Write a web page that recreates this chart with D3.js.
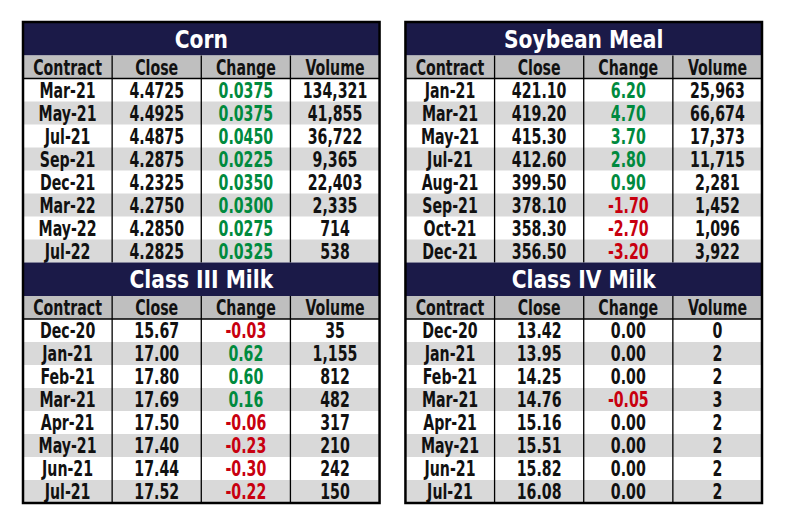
<!DOCTYPE html>
<html>
<head>
<meta charset="utf-8">
<script src="https://cdn.jsdelivr.net/npm/d3@7"></script>
<style>
  body { margin: 0; background: #fff; }
  text { font-family: "DejaVu Sans Condensed", "DejaVu Sans", sans-serif; font-weight: bold; }
</style>
</head>
<body>
<div id="chart"></div>
<script>
const columns = ['Contract', 'Close', 'Change', 'Volume'];

const cornContracts = ['Mar-21', 'May-21', 'Jul-21', 'Sep-21', 'Dec-21', 'Mar-22', 'May-22', 'Jul-22'];
const cornClose = ['4.4725', '4.4925', '4.4875', '4.2875', '4.2325', '4.2750', '4.2850', '4.2825'];
const cornChange = [0.0375, 0.0375, 0.0450, 0.0225, 0.0350, 0.0300, 0.0275, 0.0325];
const cornVolume = [134321, 41855, 36722, 9365, 22403, 2335, 714, 538];

const mealContracts = ['Jan-21', 'Mar-21', 'May-21', 'Jul-21', 'Aug-21', 'Sep-21', 'Oct-21', 'Dec-21'];
const mealClose = ['421.10', '419.20', '415.30', '412.60', '399.50', '378.10', '358.30', '356.50'];
const mealChange = [6.20, 4.70, 3.70, 2.80, 0.90, -1.70, -2.70, -3.20];
const mealVolume = [25963, 66674, 17373, 11715, 2281, 1452, 1096, 3922];

const milk3Contracts = ['Dec-20', 'Jan-21', 'Feb-21', 'Mar-21', 'Apr-21', 'May-21', 'Jun-21', 'Jul-21'];
const milk3Close = ['15.67', '17.00', '17.80', '17.69', '17.50', '17.40', '17.44', '17.52'];
const milk3Change = [-0.03, 0.62, 0.60, 0.16, -0.06, -0.23, -0.30, -0.22];
const milk3Volume = [35, 1155, 812, 482, 317, 210, 242, 150];

const milk4Contracts = ['Dec-20', 'Jan-21', 'Feb-21', 'Mar-21', 'Apr-21', 'May-21', 'Jun-21', 'Jul-21'];
const milk4Close = ['13.42', '13.95', '14.25', '14.76', '15.16', '15.51', '15.82', '16.08'];
const milk4Change = [0.00, 0.00, 0.00, -0.05, 0.00, 0.00, 0.00, 0.00];
const milk4Volume = [0, 2, 2, 3, 2, 2, 2, 2];

const sections = [
  { title: 'Corn', contracts: cornContracts, close: cornClose, change: cornChange, volume: cornVolume, digits: 4, col: 0, block: 0 },
  { title: 'Soybean Meal', contracts: mealContracts, close: mealClose, change: mealChange, volume: mealVolume, digits: 2, col: 1, block: 0 },
  { title: 'Class III Milk', contracts: milk3Contracts, close: milk3Close, change: milk3Change, volume: milk3Volume, digits: 2, col: 0, block: 1 },
  { title: 'Class IV Milk', contracts: milk4Contracts, close: milk4Close, change: milk4Change, volume: milk4Volume, digits: 2, col: 1, block: 1 }
];

const width = 789, height = 526;
const navy = '#1b1a48', headerGray = '#bfbfbf', stripe = '#d9d9d9';
const green = '#008a3e', red = '#c8000f';
const titleH = 33.5, headerH = 23, rowH = 23;
const blockH = titleH + headerH + rowH * 8;
// the original uses a narrow face; squeeze the condensed one horizontally
const bodySquash = 0.75, titleSquash = 0.9;

const svg = d3.select('#chart').append('svg')
  .attr('width', width).attr('height', height);

// left / right table placement
const tableX = d3.scaleBand().domain([0, 1]).range([23, 762]).paddingInner(25 / 357 / 1.035);
const blockY = d3.scaleBand().domain([0, 1]).range([22, 22 + blockH * 2]);
const volFmt = d3.format(',');

sections.forEach(s => {
  const x0 = tableX(s.col);
  const w = tableX.bandwidth();
  const y0 = blockY(s.block);
  const g = svg.append('g').attr('transform', `translate(${x0},${y0})`);

  const x = d3.scaleBand().domain(columns).range([0, w]);
  const y = d3.scaleBand().domain(s.contracts).range([titleH + headerH, blockH]);

  // title band
  g.append('rect').attr('width', w).attr('height', titleH).attr('fill', navy);
  g.append('text')
    .attr('transform', `translate(${w / 2},${titleH / 2 + 9}) scale(${titleSquash},1)`)
    .attr('text-anchor', 'middle')
    .attr('fill', '#fff')
    .style('font-size', '25px')
    .text(s.title);

  // header
  g.append('rect').attr('y', titleH).attr('width', w).attr('height', headerH).attr('fill', headerGray);
  g.selectAll('.hdr').data(columns).join('text')
    .attr('class', 'hdr')
    .attr('transform', d =>
      `translate(${x(d) + x.bandwidth() / 2},${titleH + headerH / 2 + 7.5}) scale(${bodySquash},1)`)
    .attr('text-anchor', 'middle')
    .attr('fill', '#111')
    .style('font-size', '21px')
    .text(d => d);

  // rows
  const rows = s.contracts.map((c, i) => ({
    contract: c,
    close: s.close[i],
    change: s.change[i],
    volume: s.volume[i],
    i
  }));

  g.selectAll('.stripe').data(rows.filter(d => d.i % 2 === 1)).join('rect')
    .attr('class', 'stripe')
    .attr('y', d => y(d.contract))
    .attr('width', w)
    .attr('height', y.bandwidth())
    .attr('fill', stripe);

  const cells = [];
  rows.forEach(r => {
    cells.push({ row: r.contract, col: 'Contract', text: r.contract, fill: '#111' });
    cells.push({ row: r.contract, col: 'Close', text: r.close, fill: '#111' });
    cells.push({
      row: r.contract, col: 'Change',
      text: r.change.toFixed(s.digits),
      fill: r.change > 0 ? green : r.change < 0 ? red : '#111'
    });
    cells.push({ row: r.contract, col: 'Volume', text: volFmt(r.volume), fill: '#111' });
  });

  g.selectAll('.cell').data(cells).join('text')
    .attr('class', 'cell')
    .attr('transform', d =>
      `translate(${x(d.col) + x.bandwidth() / 2},${y(d.row) + y.bandwidth() / 2 + 7.5}) scale(${bodySquash},1)`)
    .attr('text-anchor', 'middle')
    .attr('fill', d => d.fill)
    .style('font-size', '21px')
    .text(d => d.text);

  // grid lines
  g.selectAll('.vline').data(columns.slice(1)).join('line')
    .attr('class', 'vline')
    .attr('x1', d => x(d)).attr('x2', d => x(d))
    .attr('y1', titleH).attr('y2', blockH)
    .attr('stroke', '#000').attr('stroke-width', 1.3);

  g.append('line')
    .attr('x1', 0).attr('x2', w)
    .attr('y1', titleH + headerH).attr('y2', titleH + headerH)
    .attr('stroke', '#000').attr('stroke-width', 1.3);
});

// outer borders
[0, 1].forEach(c => {
  svg.append('rect')
    .attr('x', tableX(c)).attr('y', blockY(0))
    .attr('width', tableX.bandwidth())
    .attr('height', blockH * 2)
    .attr('fill', 'none')
    .attr('stroke', '#000')
    .attr('stroke-width', 2.5);
});
</script>
</body>
</html>
